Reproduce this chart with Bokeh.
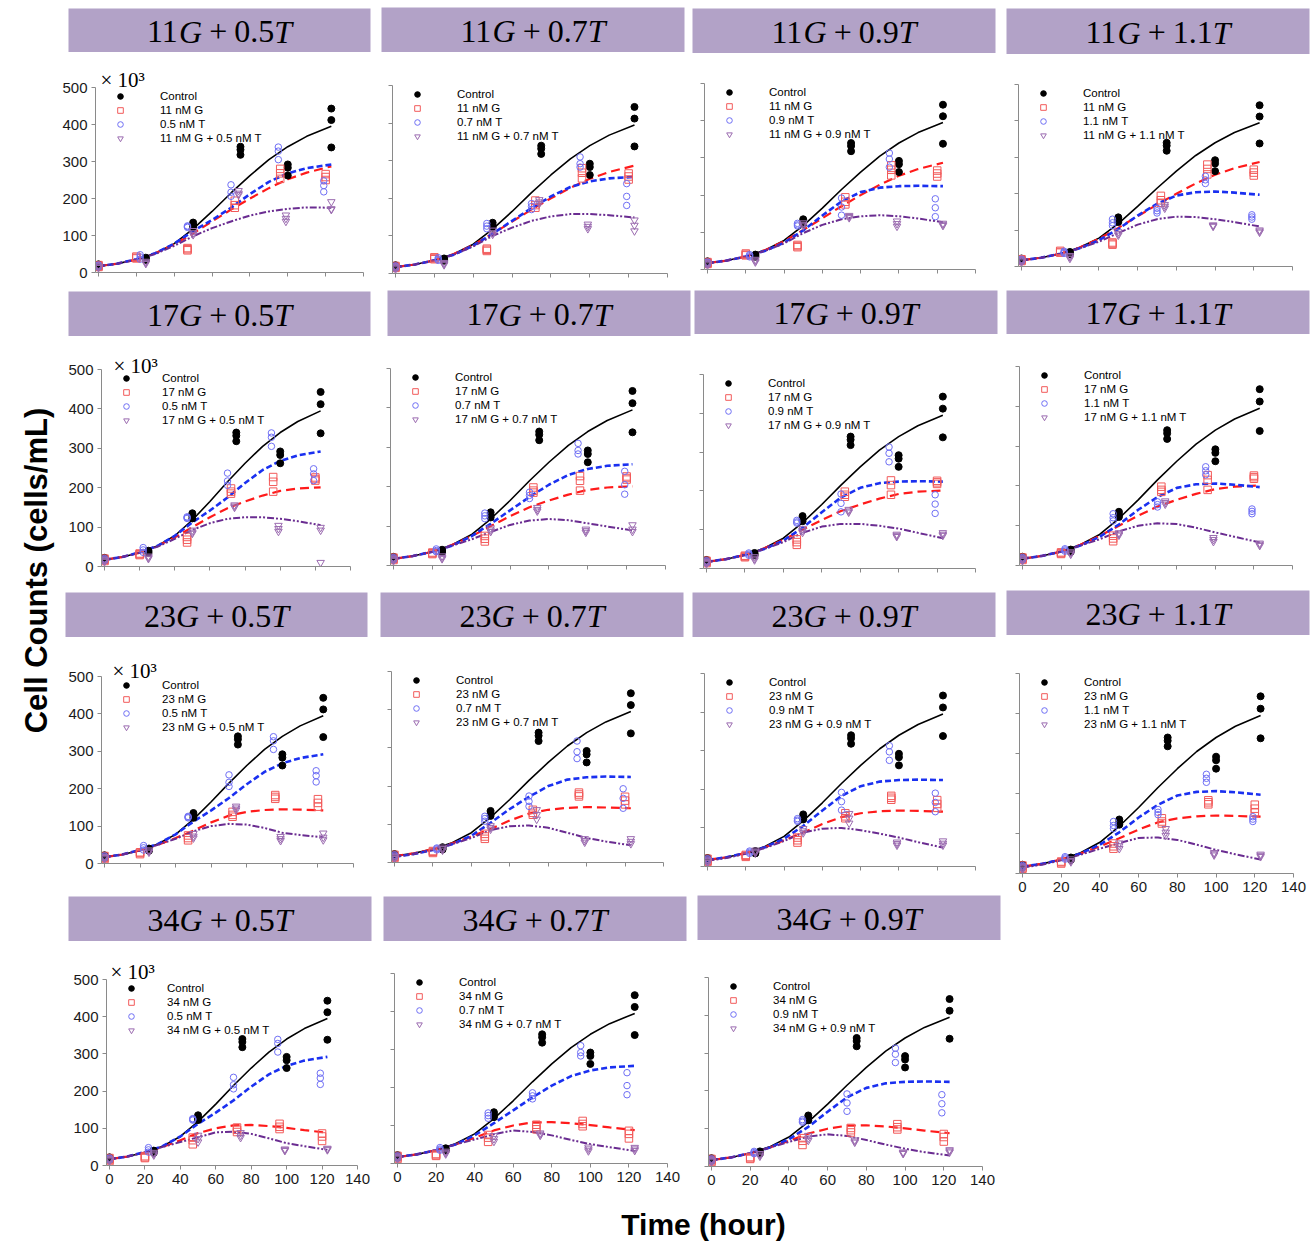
import math
from bokeh.plotting import figure
from bokeh.layouts import row, column
from bokeh.models import Legend, LegendItem, Label, Range1d, FixedTicker
from bokeh.embed import file_html
from bokeh.resources import INLINE
from bokeh.core.properties import value

# ---------------------------------------------------------------- data
G_DOSES = [11, 17, 23, 34]
T_DOSES = ["0.5", "0.7", "0.9", "1.1"]

TIME_CTRL = [0, 25, 50, 75, 100, 123]
TIME_G = [0, 20, 47, 72, 96, 120]
TIME_T = [0, 22, 47, 70, 95, 119]
TIME_GT = [0, 25, 50, 74, 99, 123]
CURVE_TIME = [0, 10, 20, 30, 40, 50, 60, 70, 80, 90, 100, 110, 123]

X_TICKS = [0, 20, 40, 60, 80, 100, 120, 140]
Y_TICKS = [0, 100, 200, 300, 400, 500]

# control (same in every panel): replicates per time point, and fitted curve
CTRL_PTS = [[22, 18, 15], [40, 37, 34], [135, 128, 122], [340, 332, 318], [292, 283, 262], [443, 412, 338]]
CTRL_CURVE = [17, 24, 35, 52, 78, 118, 165, 215, 262, 305, 340, 368, 395]

# G alone
G11_PTS = [[20, 17, 15], [43, 40, 38], [66, 63, 60], [194, 182, 175], [280, 268, 253], [266, 258, 250]]
G17_PTS = [[20, 17, 14], [33, 31, 29], [75, 68, 61], [198, 190, 185], [227, 215, 190], [226, 222, 218]]
G23_PTS = [[20, 15, 12], [30, 28, 25], [75, 68, 62], [138, 130, 125], [183, 178, 173], [172, 162, 152]]
G34_PTS = [[20, 16, 12], [25, 22, 20], [75, 68, 57], [102, 96, 90], [112, 104, 98], [86, 78, 66]]
G11_CURVE = [17, 24, 35, 52, 76, 106, 138, 170, 200, 228, 252, 270, 287]
G17_CURVE = [17, 24, 35, 52, 74, 100, 125, 148, 165, 180, 192, 198, 201]
G23_CURVE = [17, 24, 35, 50, 68, 88, 110, 128, 138, 143, 145, 144, 142]
G34_CURVE = [17, 24, 35, 50, 68, 87, 100, 108, 109, 106, 101, 95, 88]

# T alone
T05_PTS = [[20, 17, 15], [48, 42, 36], [126, 124, 122], [237, 217, 206], [339, 328, 305], [248, 235, 218]]
T07_PTS = [[20, 17, 14], [42, 38, 35], [133, 126, 119], [186, 178, 170], [310, 292, 283], [239, 205, 181]]
T07_23_PTS = [[20, 17, 14], [38, 36, 33], [121, 115, 108], [174, 160, 147], [318, 290, 272], [193, 168, 142]]
T09_PTS = [[20, 17, 14], [40, 37, 34], [124, 120, 117], [192, 168, 146], [313, 297, 275], [190, 166, 142]]
T11_PTS = [[20, 17, 14], [42, 39, 36], [130, 120, 112], [160, 153, 147], [248, 238, 228], [142, 136, 130]]
T05_CURVE = [17, 24, 36, 52, 78, 112, 142, 175, 212, 245, 268, 282, 292]
T07_CURVE = [17, 24, 35, 50, 74, 106, 140, 174, 205, 230, 245, 253, 257]
T07_23_CURVE = [15, 22, 33, 48, 70, 104, 140, 172, 200, 217, 223, 225, 224]
T09_CURVE = [17, 24, 35, 50, 72, 105, 145, 183, 208, 220, 224, 225, 224]
T11_CURVE = [17, 24, 35, 50, 72, 103, 140, 172, 195, 204, 206, 203, 197]

# G + T combinations
GT_11_05_PTS = [[18, 15, 13], [30, 27, 24], [113, 107, 102], [221, 214, 210], [155, 146, 138], [191, 172, 170]]
GT_11_07_PTS = [[18, 15, 12], [29, 26, 23], [115, 108, 104], [196, 190, 186], [131, 125, 119], [142, 128, 113]]
GT_11_09_PTS = [[18, 15, 12], [27, 23, 20], [125, 121, 117], [145, 142, 139], [130, 123, 116], [124, 121, 118]]
GT_11_11_PTS = [[18, 15, 12], [30, 26, 22], [95, 90, 86], [170, 165, 160], [114, 112, 110], [100, 97, 94]]
GT_17_05_PTS = [[18, 15, 12], [26, 23, 20], [92, 87, 84], [156, 153, 150], [104, 96, 89], [99, 92, 10]]
GT_17_07_PTS = [[18, 15, 12], [24, 20, 17], [95, 90, 86], [147, 142, 138], [92, 88, 84], [103, 92, 86]]
GT_17_09_PTS = [[18, 15, 12], [30, 26, 22], [103, 98, 93], [152, 148, 145], [88, 85, 82], [92, 88, 85]]
GT_17_11_PTS = [[18, 15, 12], [34, 31, 28], [82, 79, 76], [162, 158, 154], [70, 65, 60], [56, 53, 50]]
GT_23_05_PTS = [[18, 15, 12], [36, 33, 30], [80, 73, 68], [153, 148, 143], [72, 66, 61], [81, 70, 63]]
GT_23_07_PTS = [[16, 13, 10], [40, 36, 32], [96, 91, 87], [138, 125, 113], [62, 57, 53], [62, 55, 49]]
GT_23_09_PTS = [[16, 13, 10], [42, 38, 35], [98, 92, 87], [137, 125, 112], [63, 59, 55], [66, 60, 55]]
GT_23_11_PTS = [[16, 13, 10], [36, 32, 29], [76, 69, 62], [112, 103, 95], [52, 49, 46], [48, 45, 42]]
GT_34_05_PTS = [[18, 15, 12], [35, 31, 28], [81, 72, 63], [88, 81, 75], [44, 42, 40], [46, 44, 42]]
GT_34_07_PTS = [[18, 15, 12], [32, 28, 25], [73, 65, 58], [80, 77, 74], [43, 38, 33], [42, 38, 34]]
GT_34_09_PTS = [[18, 15, 12], [34, 30, 27], [82, 75, 69], [70, 67, 64], [38, 36, 34], [44, 41, 38]]

GT_11_05_CURVE = [17, 24, 35, 50, 72, 98, 120, 138, 154, 165, 172, 176, 175]
GT_11_07_CURVE = [17, 24, 35, 50, 72, 100, 122, 140, 152, 158, 158, 155, 149]
GT_11_09_CURVE = [17, 24, 35, 50, 70, 98, 120, 135, 143, 146, 143, 137, 127]
GT_11_11_CURVE = [17, 24, 35, 50, 68, 92, 115, 130, 137, 136, 130, 122, 110]
GT_17_05_CURVE = [17, 24, 35, 50, 70, 93, 110, 121, 125, 125, 121, 115, 105]
GT_17_07_CURVE = [17, 24, 35, 50, 66, 85, 103, 114, 118, 115, 107, 99, 89]
GT_17_09_CURVE = [17, 24, 35, 50, 68, 92, 108, 115, 115, 110, 103, 92, 78]
GT_17_11_CURVE = [17, 24, 35, 50, 66, 86, 100, 106, 104, 95, 83, 72, 58]
GT_23_05_CURVE = [17, 24, 35, 50, 66, 86, 100, 106, 104, 95, 82, 76, 70]
GT_23_07_CURVE = [15, 22, 33, 48, 64, 85, 95, 97, 91, 78, 64, 55, 45]
GT_23_09_CURVE = [15, 22, 33, 48, 66, 88, 98, 100, 94, 85, 75, 63, 49]
GT_23_11_CURVE = [15, 22, 33, 47, 62, 76, 89, 90, 84, 72, 59, 48, 35]
GT_34_05_CURVE = [17, 24, 35, 50, 63, 76, 89, 91, 85, 73, 60, 52, 42]
GT_34_07_CURVE = [17, 24, 35, 50, 63, 77, 87, 83, 74, 62, 51, 43, 33]
GT_34_09_CURVE = [17, 24, 35, 50, 65, 79, 85, 81, 70, 58, 47, 38, 29]

G_PTS = {11: G11_PTS, 17: G17_PTS, 23: G23_PTS, 34: G34_PTS}
G_CURVES = {11: G11_CURVE, 17: G17_CURVE, 23: G23_CURVE, 34: G34_CURVE}
T_PTS = {"0.5": T05_PTS, "0.7": T07_PTS, "0.9": T09_PTS, "1.1": T11_PTS}
T_CURVES = {"0.5": T05_CURVE, "0.7": T07_CURVE, "0.9": T09_CURVE, "1.1": T11_CURVE}
T_PTS_OVERRIDE = {(23, "0.7"): T07_23_PTS}
T_CURVES_OVERRIDE = {(23, "0.7"): T07_23_CURVE}
GT_PTS = {
    (11, "0.5"): GT_11_05_PTS, (11, "0.7"): GT_11_07_PTS, (11, "0.9"): GT_11_09_PTS, (11, "1.1"): GT_11_11_PTS,
    (17, "0.5"): GT_17_05_PTS, (17, "0.7"): GT_17_07_PTS, (17, "0.9"): GT_17_09_PTS, (17, "1.1"): GT_17_11_PTS,
    (23, "0.5"): GT_23_05_PTS, (23, "0.7"): GT_23_07_PTS, (23, "0.9"): GT_23_09_PTS, (23, "1.1"): GT_23_11_PTS,
    (34, "0.5"): GT_34_05_PTS, (34, "0.7"): GT_34_07_PTS, (34, "0.9"): GT_34_09_PTS,
}
GT_CURVES = {
    (11, "0.5"): GT_11_05_CURVE, (11, "0.7"): GT_11_07_CURVE, (11, "0.9"): GT_11_09_CURVE, (11, "1.1"): GT_11_11_CURVE,
    (17, "0.5"): GT_17_05_CURVE, (17, "0.7"): GT_17_07_CURVE, (17, "0.9"): GT_17_09_CURVE, (17, "1.1"): GT_17_11_CURVE,
    (23, "0.5"): GT_23_05_CURVE, (23, "0.7"): GT_23_07_CURVE, (23, "0.9"): GT_23_09_CURVE, (23, "1.1"): GT_23_11_CURVE,
    (34, "0.5"): GT_34_05_CURVE, (34, "0.7"): GT_34_07_CURVE, (34, "0.9"): GT_34_09_CURVE,
}

# ---------------------------------------------------------------- layout (page pixels)
YLAB_W = 56
COL_X = [(56, 376), (376, 691), (691, 1003), (1003, 1316)]
END_Y = 1195
PAGE_H = 1242
GEOM = {
    (0, 0): dict(bar=(68, 8, 370, 52), x0=98, x1=363, y5=87, y0=272),
    (0, 1): dict(bar=(381, 7, 684, 52), x0=395, x1=667, y5=85, y0=273),
    (0, 2): dict(bar=(692, 8, 995, 53), x0=707, x1=975, y5=83, y0=269),
    (0, 3): dict(bar=(1006, 8, 1309, 54), x0=1021, x1=1292, y5=84, y0=266),
    (1, 0): dict(bar=(68, 291, 370, 336), x0=104, x1=350, y5=369, y0=566),
    (1, 1): dict(bar=(387, 290, 690, 336), x0=393, x1=665, y5=368, y0=565),
    (1, 2): dict(bar=(694, 290, 997, 334), x0=706, x1=975, y5=374, y0=568),
    (1, 3): dict(bar=(1006, 290, 1309, 334), x0=1022, x1=1292, y5=366, y0=565),
    (2, 0): dict(bar=(65, 592, 367, 637), x0=104, x1=353, y5=676, y0=863),
    (2, 1): dict(bar=(380, 592, 683, 637), x0=394, x1=663, y5=671, y0=862),
    (2, 2): dict(bar=(692, 592, 995, 637), x0=707, x1=975, y5=673, y0=866),
    (2, 3): dict(bar=(1006, 590, 1309, 635), x0=1022, x1=1293, y5=673, y0=873),
    (3, 0): dict(bar=(68, 896, 371, 941), x0=109, x1=357, y5=979, y0=1165),
    (3, 1): dict(bar=(383, 896, 686, 941), x0=397, x1=667, y5=973, y0=1163),
    (3, 2): dict(bar=(697, 895, 1000, 940), x0=711, x1=982, y5=977, y0=1166),
}
X_LABELLED = {(2, 3), (3, 0), (3, 1), (3, 2)}
EXP_OFFSET = {0: (2, 8), 1: (9, 4), 2: (8, 6), 3: (1, 8)}
TOP_PAD = 26
LEFT_PAD = 3

BAR_COLOR = "#B2A2C7"
AXIS_COLOR = "#8a8a8a"
TICK_TEXT = "#1a1a1a"
SANS = "Liberation Sans"
SERIF = "Liberation Serif"

CHAR_W = {'0': 0.5, '1': 0.5, '2': 0.5, '3': 0.5, '4': 0.5, '5': 0.5, '7': 0.5, '9': 0.5,
          '.': 0.25, 'G': 0.722, 'T': 0.556, '+': 0.564}


def flat(times, pts):
    xs = [t for t, reps in zip(times, pts) for _ in reps]
    ys = [v for reps in pts for v in reps]
    return xs, ys


def base_fig(**kw):
    return figure(title=None, toolbar_location=None, output_backend="svg", frame_align=False,
                  outline_line_color=None, border_fill_color="white", **kw)


def make_title(g, t, bar, colx0, colx1, top_y):
    l, bt, rr, bb = bar
    bt = max(bt, top_y)
    bw, bh = rr - l, bb - bt
    p = base_fig(width=colx1 - colx0, height=bb - top_y, x_range=Range1d(0, bw), y_range=Range1d(0, bh),
                 x_axis_type=None, y_axis_type=None,
                 min_border_left=l - colx0, min_border_right=colx1 - rr,
                 min_border_top=bt - top_y, min_border_bottom=0,
                 background_fill_color=BAR_COLOR)
    fs = 32
    pieces = [(str(g), False), ("G", True), ("+", False), (t, False), ("T", True)]
    space = 0.222 * fs
    widths = [sum(CHAR_W[ch] for ch in s) * fs for s, _ in pieces]
    total = sum(widths) + 2 * space
    x = (bw - total) / 2
    xs_n, ts_n, xs_i, ts_i = [], [], [], []
    for (s, ital), w in zip(pieces, widths):
        if s == "+":
            x += space
        (xs_i if ital else xs_n).append(x)
        (ts_i if ital else ts_n).append(s)
        x += w
        if s == "+":
            x += space
    mid = bh / 2 - 1
    common = dict(text_font=value(SERIF), text_font_size=value(f"{fs}px"), text_align="left",
                  text_baseline="middle", text_color="black")
    p.text(x=xs_n, y=[mid] * len(xs_n), text=ts_n, text_font_style=value("normal"), **common)
    p.text(x=xs_i, y=[mid] * len(xs_i), text=ts_i, text_font_style=value("italic"), **common)
    return p


def style_axis(ax, labelled):
    ax.axis_line_color = AXIS_COLOR
    ax.axis_line_width = 1
    ax.major_tick_line_color = AXIS_COLOR
    ax.major_tick_out = 4
    ax.major_tick_in = 0
    ax.minor_tick_line_color = None
    ax.major_label_standoff = 4
    if labelled:
        ax.major_label_text_font = SANS
        ax.major_label_text_font_size = "15px"
        ax.major_label_text_color = TICK_TEXT
    else:
        ax.major_label_text_color = None


def make_plot(r, c, colx0, colx1, top_y, bottom_y):
    gdose, tdose = G_DOSES[r], T_DOSES[c]
    geo = GEOM[(r, c)]
    X0, X1, Y5, Y0 = geo["x0"], geo["x1"], geo["y5"], geo["y0"]
    fl, fr = X0 - LEFT_PAD, X1
    ft, fb = Y5 - TOP_PAD, Y0
    ppx = (X1 - X0) / 140.0
    ppy = (Y0 - Y5) / 500.0
    p = base_fig(width=colx1 - colx0, height=bottom_y - top_y,
                 x_range=Range1d(-LEFT_PAD / ppx, 140), y_range=Range1d(0, 500 + TOP_PAD / ppy),
                 min_border_left=fl - colx0, min_border_right=colx1 - fr,
                 min_border_top=ft - top_y, min_border_bottom=bottom_y - fb,
                 background_fill_color="white")
    p.xgrid.visible = False
    p.ygrid.visible = False
    xa, ya = p.xaxis[0], p.yaxis[0]
    xa.ticker = FixedTicker(ticks=X_TICKS)
    ya.ticker = FixedTicker(ticks=Y_TICKS)
    ya.bounds = (0, 500)
    style_axis(xa, (r, c) in X_LABELLED)
    style_axis(ya, c == 0)

    t_pts = T_PTS_OVERRIDE.get((gdose, tdose), T_PTS[tdose])
    t_curve = T_CURVES_OVERRIDE.get((gdose, tdose), T_CURVES[tdose])

    # fitted curves
    p.line(CURVE_TIME, CTRL_CURVE, line_color="black", line_width=1.6)
    p.line(CURVE_TIME, G_CURVES[gdose], line_color="#FF1A1A", line_width=2.2, line_dash="9 5")
    p.line(CURVE_TIME, t_curve, line_color="#1A30F0", line_width=2.6, line_dash="6 3")
    p.line(CURVE_TIME, GT_CURVES[(gdose, tdose)], line_color="#6A2C91", line_width=2,
           line_dash="7 2 2 2 2 2")

    # measurements
    xs, ys = flat(TIME_CTRL, CTRL_PTS)
    rc = p.scatter(xs, ys, marker="circle", size=7, fill_color="black", line_color="black")
    xs, ys = flat(TIME_G, G_PTS[gdose])
    rg = p.scatter(xs, ys, marker="square", size=7.5, fill_color=None, line_color="#F25A5A", line_width=1)
    xs, ys = flat(TIME_T, t_pts)
    rt = p.scatter(xs, ys, marker="circle", size=6.5, fill_color=None, line_color="#6F6FF5", line_width=1)
    xs, ys = flat(TIME_GT, GT_PTS[(gdose, tdose)])
    rgt = p.scatter(xs, ys, marker="inverted_triangle", size=7.5, fill_color=None, line_color="#9B6BB0",
                    line_width=1)

    gw, gh, n = 16, 14, 4
    ls = 28 if (c == 0 and r >= 1) else 32
    lx = (X0 - fl) + 22 - gw / 2
    ly = (fb - Y5) - 2 - n * gh
    legend = Legend(items=[
        LegendItem(label="Control", renderers=[rc]),
        LegendItem(label=f"{gdose} nM G", renderers=[rg]),
        LegendItem(label=f"{tdose} nM T", renderers=[rt]),
        LegendItem(label=f"{gdose} nM G + {tdose} nM T", renderers=[rgt]),
    ], location=(lx, ly))
    legend.background_fill_alpha = 0
    legend.border_line_color = None
    legend.padding = 0
    legend.spacing = 0
    legend.margin = 0
    legend.glyph_width = gw
    legend.glyph_height = gh
    legend.label_height = gh
    legend.label_standoff = ls
    legend.label_text_font = SANS
    legend.label_text_font_size = "11.5px"
    legend.label_text_color = "black"
    p.add_layout(legend)

    if c == 0:
        dx, dy = EXP_OFFSET[r]
        p.add_layout(Label(x=0, y=500, x_offset=dx, y_offset=dy, text="× 10³",
                           text_font=SERIF, text_font_size="21px", text_color="black",
                           text_baseline="alphabetic", text_align="left"))
    return p


columns = []
for c in range(4):
    colx0, colx1 = COL_X[c]
    rows_here = [r for r in range(4) if (r, c) in GEOM]
    items = []
    cur = 0
    for i, r in enumerate(rows_here):
        bar = GEOM[(r, c)]["bar"]
        items.append(make_title(G_DOSES[r], T_DOSES[c], bar, colx0, colx1, cur))
        cur = bar[3]
        nxt = GEOM[(rows_here[i + 1], c)]["bar"][1] if i + 1 < len(rows_here) else END_Y
        items.append(make_plot(r, c, colx0, colx1, cur, nxt))
        cur = nxt
    columns.append(column(*items))

# y-axis title (visual centre of the rotated capitals at x = 36)
ylab = base_fig(width=YLAB_W, height=END_Y, x_range=Range1d(0, YLAB_W), y_range=Range1d(0, END_Y),
                x_axis_type=None, y_axis_type=None, min_border=0)
ylab.text(x=[36], y=[END_Y - 570], text=["Cell Counts (cells/mL)"], angle=math.pi / 2,
          text_align="center", text_baseline="middle", text_font=value(SANS),
          text_font_size=value("31px"), text_font_style=value("bold"), text_color="black")

# x-axis title
XW, XH = 1316, PAGE_H - END_Y
xlab = base_fig(width=XW, height=XH, x_range=Range1d(0, XW), y_range=Range1d(0, XH),
                x_axis_type=None, y_axis_type=None, min_border=0)
xlab.text(x=[703], y=[PAGE_H - 1224], text=["Time (hour)"], text_align="center",
          text_baseline="middle", text_font=value(SANS), text_font_size=value("30px"),
          text_font_style=value("bold"), text_color="black")

layout = column(row(ylab, *columns), xlab)
open("out.html", "w").write(file_html(layout, INLINE))
